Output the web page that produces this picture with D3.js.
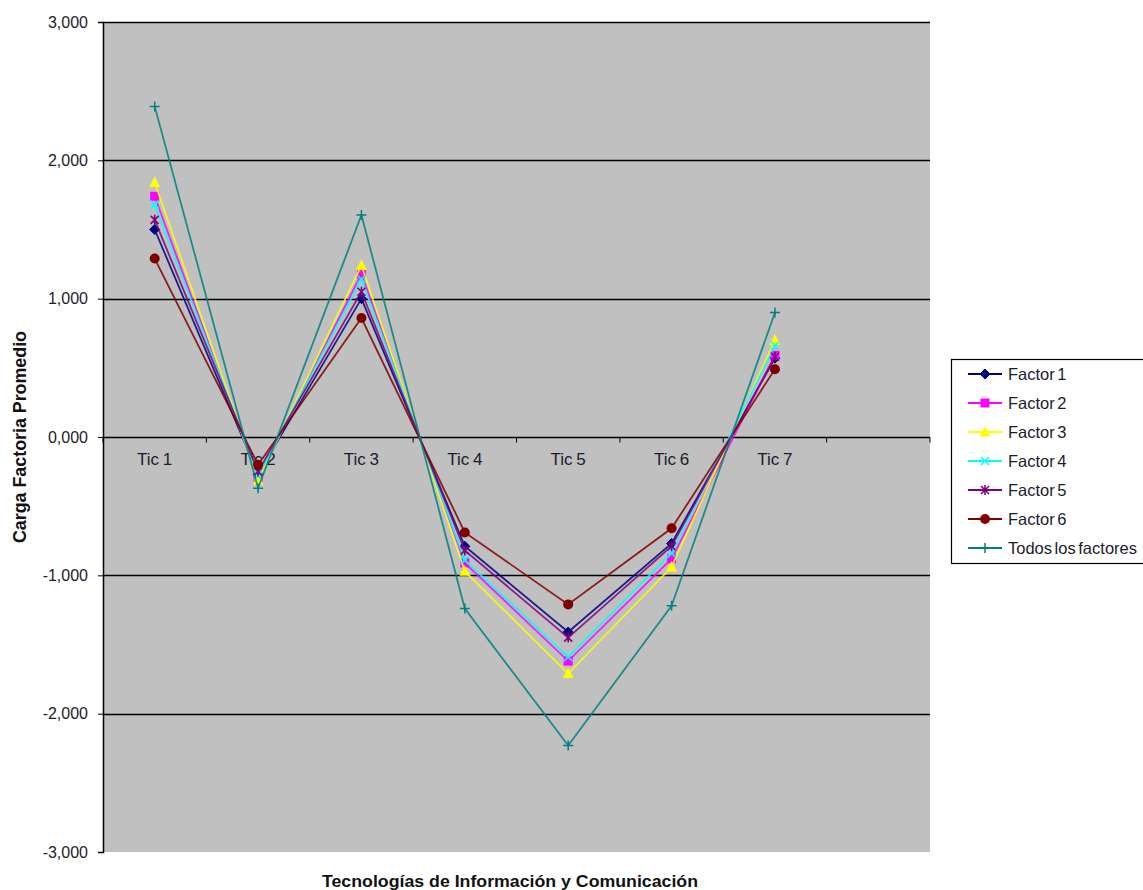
<!DOCTYPE html>
<html>
<head>
<meta charset="utf-8">
<script src="https://cdn.jsdelivr.net/npm/d3@7/dist/d3.min.js"></script>
<style>
  html, body { margin: 0; padding: 0; background: #fff; }
  svg { display: block; }
  text { font-family: "Liberation Sans", Arial, sans-serif; }
</style>
</head>
<body>
<svg id="chart" width="1143" height="890"></svg>
<script>
// Categories (the eighth slot is left empty on the axis)
const categories = ["Tic 1", "Tic 2", "Tic 3", "Tic 4", "Tic 5", "Tic 6", "Tic 7", ""];
const seriesNames = ["Factor 1", "Factor 2", "Factor 3", "Factor 4", "Factor 5", "Factor 6", "Todos los factores"];

// Mean factor loadings per TIC
const factor1 = [1.50, -0.27, 1.00, -0.79, -1.41, -0.77, 0.57];
const factor2 = [1.74, -0.30, 1.18, -0.91, -1.62, -0.88, 0.59];
const factor3 = [1.84, -0.31, 1.24, -0.97, -1.71, -0.94, 0.70];
const factor4 = [1.68, -0.28, 1.14, -0.89, -1.59, -0.84, 0.66];
const factor5 = [1.57, -0.25, 1.05, -0.82, -1.45, -0.79, 0.58];
const factor6 = [1.29, -0.20, 0.86, -0.69, -1.21, -0.66, 0.49];
const todos   = [2.39, -0.37, 1.605, -1.24, -2.23, -1.22, 0.90];

const yTicks = [-3, -2, -1, 0, 1, 2, 3];

const colors = ["#000080", "#FF00FF", "#FFFF00", "#00FFFF", "#800080", "#800000", "#008080"];
const markers = ["diamond", "square", "triangle", "x", "star", "circle", "plus"];
const values = [factor1, factor2, factor3, factor4, factor5, factor6, todos];

const svg = d3.select("#chart");
const plot = { left: 103, right: 930, top: 22, bottom: 852 };

const x = d3.scaleBand().domain(categories.map((c, i) => i)).range([plot.left, plot.right]);
const y = d3.scaleLinear().domain([-3, 3]).range([plot.bottom, plot.top]);
const cx = i => x(i) + x.bandwidth() / 2;

// Plot background
svg.append("rect")
  .attr("x", plot.left).attr("y", plot.top)
  .attr("width", plot.right - plot.left).attr("height", plot.bottom - plot.top)
  .attr("fill", "#C0C0C0");

// Horizontal gridlines
svg.append("g").selectAll("line").data(yTicks.filter(t => t !== -3 && t !== 0)).join("line")
  .attr("x1", plot.left).attr("x2", plot.right)
  .attr("y1", d => Math.round(y(d)) + 0.5).attr("y2", d => Math.round(y(d)) + 0.5)
  .attr("stroke", "#000").attr("stroke-width", 1.5);

// Y axis with comma decimal labels
const yAxis = d3.axisLeft(y).tickValues(yTicks).tickSize(5).tickPadding(10)
  .tickFormat(d => (d < 0 ? "-" : "") + Math.abs(d) + ",000");
const gy = svg.append("g").attr("transform", `translate(${plot.left},0)`).call(yAxis);
gy.select(".domain").attr("stroke", "#000").attr("stroke-width", 1.5);
gy.selectAll(".tick line").attr("stroke", "#000");
gy.selectAll(".tick text").attr("font-size", 16).attr("fill", "#1c1c2c")
  .attr("font-family", "'Liberation Sans', Arial, sans-serif");

// X axis along the zero line, ticks between categories
const gx = svg.append("g").attr("transform", `translate(0,${Math.round(y(0)) + 0.5})`);
gx.append("line").attr("x1", plot.left).attr("x2", plot.right).attr("stroke", "#000").attr("stroke-width", 1.5);
gx.selectAll("line.tk").data(categories.map((c, i) => i).concat([categories.length])).join("line")
  .attr("class", "tk")
  .attr("x1", i => i < categories.length ? x(i) : plot.right)
  .attr("x2", i => i < categories.length ? x(i) : plot.right)
  .attr("y1", 0).attr("y2", 5).attr("stroke", "#000");
gx.selectAll("text").data(categories).join("text")
  .attr("x", (c, i) => cx(i)).attr("y", 27)
  .attr("text-anchor", "middle").attr("font-size", 17).attr("fill", "#1c1c2c")
  .attr("word-spacing", -1)
  .text(c => c);

// Marker drawing
function drawMarker(g, type, color) {
  switch (type) {
    case "diamond":
      g.append("path").attr("d", "M0,-5L5,0L0,5L-5,0Z").attr("fill", color).attr("stroke", color); break;
    case "square":
      g.append("rect").attr("x", -4.5).attr("y", -4.5).attr("width", 9).attr("height", 9).attr("fill", color); break;
    case "triangle":
      g.append("path").attr("d", "M0,-6L5.5,4.5L-5.5,4.5Z").attr("fill", color); break;
    case "x":
      g.append("path").attr("d", "M-4,-4L4,4M-4,4L4,-4").attr("stroke", color).attr("stroke-width", 1.6).attr("fill", "none"); break;
    case "star":
      g.append("path").attr("d", "M-4,-4L4,4M-4,4L4,-4M0,-5L0,5").attr("stroke", color).attr("stroke-width", 1.6).attr("fill", "none"); break;
    case "circle":
      g.append("circle").attr("r", 5).attr("fill", color); break;
    case "plus":
      g.append("path").attr("d", "M-5,0L5,0M0,-5L0,5").attr("stroke", color).attr("stroke-width", 1.5).attr("fill", "none"); break;
  }
}

// Series lines and markers
const line = d3.line().x((d, i) => cx(i)).y(d => y(d));
values.forEach((vals, s) => {
  const g = svg.append("g");
  g.append("path").datum(vals).attr("d", line)
    .attr("fill", "none").attr("stroke", colors[s]).attr("stroke-width", 1.8).attr("stroke-opacity", 0.85);
  vals.forEach((v, i) => {
    const m = g.append("g").attr("transform", `translate(${cx(i)},${y(v)})`);
    drawMarker(m, markers[s], colors[s]);
  });
});

// Axis titles
svg.append("text")
  .attr("transform", `translate(26,${y(0)}) rotate(-90)`)
  .attr("text-anchor", "middle").attr("font-size", 18).attr("font-weight", "bold")
  .attr("font-family", "'Liberation Sans Narrow', 'Liberation Sans', Arial, sans-serif")
  .attr("fill", "#111")
  .attr("textLength", 212).attr("lengthAdjust", "spacingAndGlyphs")
  .text("Carga Factoria Promedio");
svg.append("text")
  .attr("x", 510).attr("y", 887).attr("text-anchor", "middle")
  .attr("font-size", 17).attr("font-weight", "bold").attr("fill", "#111")
  .attr("textLength", 376).attr("lengthAdjust", "spacingAndGlyphs")
  .text("Tecnologías de Información y Comunicación");

// Legend
const lg = svg.append("g").attr("transform", "translate(951,359)");
lg.append("rect").attr("x", 0.5).attr("y", 0.5).attr("width", 200).attr("height", 204)
  .attr("fill", "#fff").attr("stroke", "#000").attr("stroke-width", 1.2);
seriesNames.forEach((name, s) => {
  const row = lg.append("g").attr("transform", `translate(0,${15 + s * 29})`);
  row.append("line").attr("x1", 17).attr("x2", 51).attr("stroke", colors[s]).attr("stroke-width", 1.8);
  const m = row.append("g").attr("transform", "translate(34,0)");
  drawMarker(m, markers[s], colors[s]);
  row.append("text").attr("x", 57).attr("y", 6).attr("font-size", 16.5)
    .attr("word-spacing", -2).attr("fill", "#1c1c2c").text(name);
});
</script>
</body>
</html>
